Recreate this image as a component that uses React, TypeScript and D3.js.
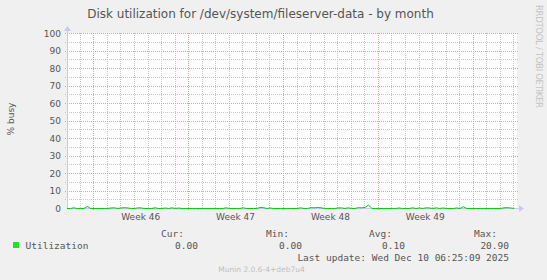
import React from "react";
import * as d3 from "d3";

const title = "Disk utilization for /dev/system/fileserver-data - by month";
const yLabel = "% busy";
const seriesName = "Utilization";
const yTicks = [0, 10, 20, 30, 40, 50, 60, 70, 80, 90, 100];
const statHeaders = ["Cur:", "Min:", "Avg:", "Max:"];
const statValues = ["0.00", "0.00", "0.10", "20.90"];
const lastUpdate = "Last update: Wed Dec 10 06:25:09 2025";
const footer = "Munin 2.0.6-4+deb7u4";
const watermark = "RRDTOOL / TOBI OETIKER";

const rangeStart = new Date(Date.UTC(2025, 10, 8, 1, 25));
const rangeEnd = new Date(Date.UTC(2025, 11, 11, 6, 25));
const sampleHours = 6;
// utilization samples, one every 6 h from rangeStart
const utilization = [
  0, 0, 0.4, 0, 0, 0, 1.2, 0, 0, 0,
  0, 0, 0, 0.3, 0.4, 0, 0.3, 0.5, 0.3, 0,
  0, 0.4, 0.3, 0, 0, 0, 0.4, 0, 0, 0.3,
  0, 0.4, 0, 0.3, 0, 0, 0, 0, 0, 0,
  0, 0, 0, 0, 0, 0, 0, 0.4, 0, 0,
  0, 0, 0.4, 0, 0, 0, 0, 0.6, 0.5, 0,
  0.3, 0, 0, 0, 0, 0, 0, 0, 0, 0.4,
  0, 0, 0.5, 0.4, 0.6, 0.4, 0, 0, 0, 0,
  0.3, 0.4, 0, 0.4, 0, 0, 0.5, 0.4, 0.6, 2.0,
  0, 0, 0, 0, 0, 0, 0, 0, 0.3, 0,
  0, 0, 0.4, 0, 0.3, 0, 0.4, 0.3, 0, 0.4,
  0, 0.3, 0, 0, 0, 0.3, 0, 1.0, 0, 0,
  0, 0, 0, 0, 0, 0, 0, 0, 0, 0.4,
  0.5, 0.3, 0,
];

const W = 547;
const H = 280;
const L = 67, R = 517, T = 33, B = 208;
const TXT = "#555555";
const SANS = "'DejaVu Sans', sans-serif";
const MONO = "'DejaVu Sans Mono', monospace";
const GREEN = "#00cc00";
const LEGEND_GREEN = "#1ee61e";
const AXIS = "#c8c8f8";
const MAJOR = "#f09a9a";
const MINOR = "#c6c6c6";

export default function App() {
  const x = d3.scaleUtc().domain([rangeStart, rangeEnd]).range([L, R]);
  const y = d3.scaleLinear().domain([0, 100]).range([B, T]);
  const days = d3.utcDay.range(rangeStart, rangeEnd);
  const mondays = d3.utcMonday.range(rangeStart, rangeEnd);
  const minorY = d3.range(5, 100, 10);
  const fmtWeek = d3.utcFormat("Week %V");
  const weekLabels = mondays
    .map((m) => ({ t: d3.utcHour.offset(m, 84), label: fmtWeek(m) }))
    .filter((d) => d.t < rangeEnd);

  const pts = utilization.map((v, i) => [
    x(d3.utcHour.offset(rangeStart, i * sampleHours)),
    y(v),
  ]) as [number, number][];
  const line = d3.line().x((d) => d[0]).y((d) => d[1] + 0.5)(pts) || "";

  const px = (v: number) => Math.round(v) + 0.5;
  const statX = [184, 289, 392, 497];
  const valX = [198, 302, 405, 509];
  const mondaySet = new Set(mondays.map((m) => +m));

  return (
    <svg width={W} height={H} style={{ display: "block", position: "absolute", left: 0, top: 0 }}>
      <rect x={0} y={0} width={W} height={H} fill="#f0f0f0" />
      <rect x={L} y={T} width={R - L} height={B - T} fill="#ffffff" />
      {days.filter((d) => !mondaySet.has(+d)).map((d, i) => (
        <line key={"vd" + i} x1={px(x(d))} x2={px(x(d))} y1={T} y2={B} stroke={MINOR} strokeDasharray="1,1" />
      ))}
      {minorY.map((v) => (
        <line key={"hm" + v} x1={L - 2} x2={R + 2} y1={px(y(v))} y2={px(y(v))} stroke={MINOR} strokeDasharray="1,1" />
      ))}
      {yTicks.filter((v) => v > 0).map((v) => (
        <line key={"hM" + v} x1={L - 2} x2={R + 2} y1={px(y(v))} y2={px(y(v))} stroke={MAJOR} strokeDasharray="1,1" />
      ))}
      {mondays.map((d, i) => (
        <line key={"vM" + i} x1={px(x(d))} x2={px(x(d))} y1={T} y2={B + 3} stroke={MAJOR} strokeDasharray="1,1" />
      ))}
      <line x1={L + 0.5} x2={L + 0.5} y1={T - 2} y2={B} stroke={AXIS} />
      <line x1={L} x2={R + 2} y1={B + 0.5} y2={B + 0.5} stroke={AXIS} />
      <path d={`M${L - 3},${T - 2}L${L + 0.5},${T - 7}L${L + 4},${T - 2}Z`} fill={AXIS} />
      <path d={`M${R + 2},${B - 3}L${R + 7},${B + 0.5}L${R + 2},${B + 4}Z`} fill={AXIS} />
      <path d={line} fill="none" stroke={GREEN} strokeWidth={1} />

      {yTicks.map((v) => (
        <text key={"yt" + v} x={61} y={y(v) + 3.5} textAnchor="end" fontFamily={SANS} fontSize={9} fill={TXT}>
          {v}
        </text>
      ))}
      {weekLabels.map((w, i) => (
        <text key={"wl" + i} x={x(w.t)} y={220} textAnchor="middle" fontFamily={SANS} fontSize={9} fill={TXT}>
          {w.label}
        </text>
      ))}
      <text x={260.5} y={18} textAnchor="middle" fontFamily={SANS} fontSize={12} fill={TXT}>
        {title}
      </text>
      <text transform="translate(14,119) rotate(-90)" textAnchor="middle" fontFamily={SANS} fontSize={9} fill={TXT}>
        {yLabel}
      </text>
      <text transform="translate(536,5) rotate(90)" textAnchor="start" fontFamily={SANS} fontSize={8.5}
        fill="#c4c4c4" textLength={103} lengthAdjust="spacing">
        {watermark}
      </text>

      <rect x={13} y={242} width={6} height={6} fill={LEGEND_GREEN} />
      <text x={25.5} y={249} fontFamily={MONO} fontSize={9.5} fill={TXT}>{seriesName}</text>
      {statHeaders.map((s, i) => (
        <text key={"sh" + i} x={statX[i]} y={237} textAnchor="end" fontFamily={MONO} fontSize={9.5} fill={TXT}>{s}</text>
      ))}
      {statValues.map((s, i) => (
        <text key={"sv" + i} x={valX[i]} y={249} textAnchor="end" fontFamily={MONO} fontSize={9.5} fill={TXT}>{s}</text>
      ))}
      <text x={509} y={261} textAnchor="end" fontFamily={MONO} fontSize={9.5} fill={TXT}>{lastUpdate}</text>
      <text x={261.5} y={272} textAnchor="middle" fontFamily={SANS} fontSize={7.5} fill="#c0c0c0">{footer}</text>
    </svg>
  );
}
